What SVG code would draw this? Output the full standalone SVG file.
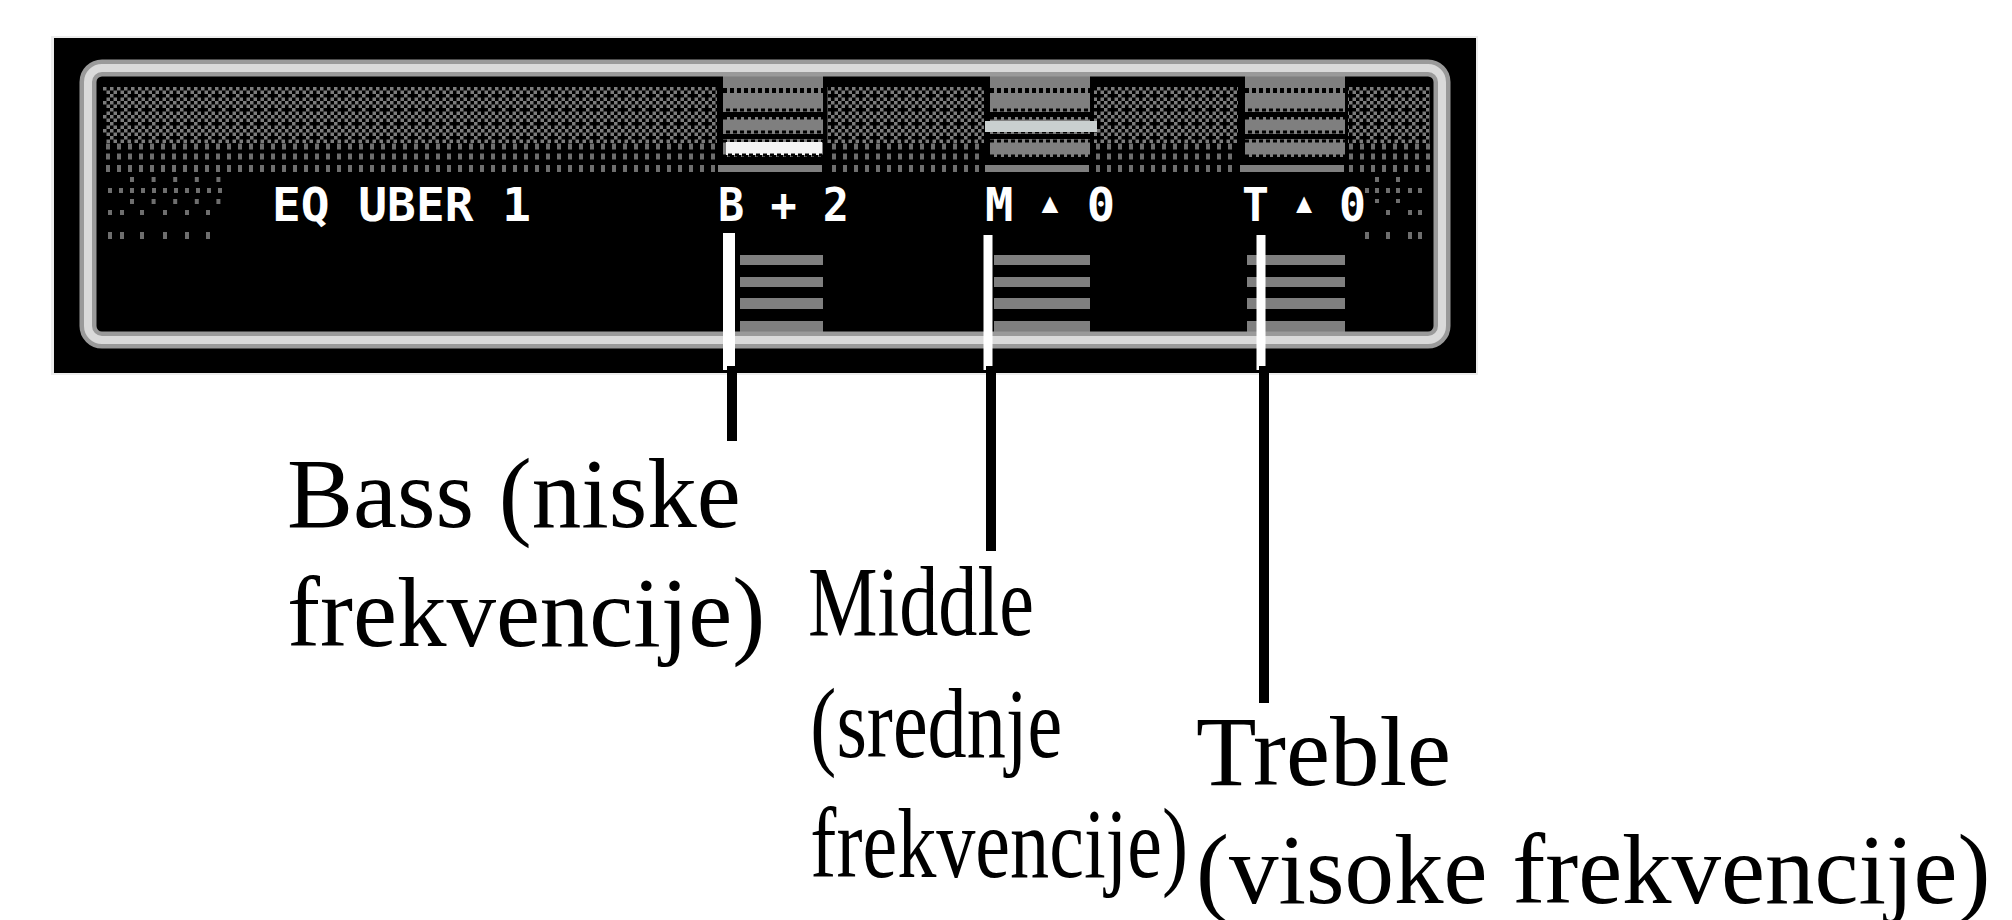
<svg xmlns="http://www.w3.org/2000/svg" xmlns:xlink="http://www.w3.org/1999/xlink" width="2012" height="920" viewBox="0 0 2012 920">
<style>
.lbl{font-family:"Liberation Serif","Times New Roman",serif;font-size:99px;fill:#000}
.lcd{font-family:"DejaVu Sans Mono","Liberation Mono",monospace;font-weight:bold;font-size:47px;fill:#fff}
.gbar{fill:#7f7f7f}
.dot{fill:#6e6e6e}
.wl{stroke:#fff;fill:none}
.bl{stroke:#000;stroke-width:10;fill:none}
</style>
<defs>
<pattern id="chk" patternUnits="userSpaceOnUse" x="103" y="87" width="14" height="14">
<g fill="#7c7c7c">
<rect x="0" y="0" width="3.5" height="3.5"/>
<rect x="3.5" y="3.5" width="3.5" height="3.5"/>
<rect x="7" y="7" width="3.5" height="3.5"/>
<rect x="10.5" y="10.5" width="3.5" height="3.5"/>
<rect x="10.5" y="3.5" width="3.5" height="3.5"/>
<rect x="3.5" y="10.5" width="3.5" height="3.5"/>
<rect x="7" y="0" width="3.5" height="3.5"/>
</g>
</pattern>
<g id="col">
<rect x="0" y="75" width="100" height="82" class="gbar"/>
<line x1="0" y1="90.5" x2="100" y2="90.5" stroke="#000" stroke-width="5" stroke-dasharray="4 3"/>
<rect x="0" y="112" width="100" height="5" fill="#000"/>
<line x1="3" y1="110" x2="100" y2="110" stroke="#000" stroke-width="3" stroke-dasharray="4 3"/>
<line x1="0" y1="118" x2="100" y2="118" stroke="#000" stroke-width="3" stroke-dasharray="4 3"/>
<rect x="0" y="134" width="100" height="5" fill="#000"/>
<line x1="3" y1="132" x2="100" y2="132" stroke="#000" stroke-width="3" stroke-dasharray="4 3"/>
<line x1="0" y1="141" x2="100" y2="141" stroke="#000" stroke-width="3" stroke-dasharray="4 3"/>
<line x1="0" y1="157" x2="100" y2="157" stroke="#000" stroke-width="5" stroke-dasharray="4 3"/>
<rect x="-5" y="165" width="104" height="7" class="gbar"/>
</g>
</defs>
<rect width="2012" height="920" fill="#fff"/>

<g id="display">
<rect x="51" y="36" width="1427" height="339" fill="#ececec"/>
<rect x="54" y="38" width="1422" height="335" fill="#000"/>
<!-- checker band -->
<rect x="103" y="87" width="1327" height="56" fill="url(#chk)"/>
<!-- dot rows -->
<line x1="106" y1="146.5" x2="1430" y2="146.5" stroke="#6e6e6e" stroke-width="6" stroke-dasharray="4 7"/>
<line x1="106" y1="156.5" x2="1430" y2="156.5" stroke="#6e6e6e" stroke-width="6" stroke-dasharray="4 7"/>
<line x1="106" y1="168.5" x2="1430" y2="168.5" stroke="#6e6e6e" stroke-width="7" stroke-dasharray="4 7"/>
<!-- left sparse dots -->
<line x1="130" y1="179.5" x2="222" y2="179.5" stroke="#6e6e6e" stroke-width="5" stroke-dasharray="4 17.6"/>
<line x1="108" y1="190.5" x2="222" y2="190.5" stroke="#6e6e6e" stroke-width="5" stroke-dasharray="4 7"/>
<line x1="130" y1="201.5" x2="222" y2="201.5" stroke="#6e6e6e" stroke-width="5" stroke-dasharray="4 17.6"/>
<g class="dot">
<rect x="108" y="210" width="4" height="5"/><rect x="120" y="210" width="4" height="5"/><rect x="140" y="210" width="4" height="5"/><rect x="163" y="210" width="4" height="5"/><rect x="185" y="210" width="4" height="5"/><rect x="206" y="210" width="4" height="5"/>
<rect x="108" y="232" width="4" height="7"/><rect x="120" y="232" width="4" height="7"/><rect x="140" y="232" width="4" height="7"/><rect x="163" y="232" width="4" height="7"/><rect x="185" y="232" width="4" height="7"/><rect x="206" y="232" width="4" height="7"/>
<!-- right sparse dots -->
<rect x="1375" y="177" width="4" height="5"/><rect x="1396" y="177" width="4" height="5"/>
<rect x="1365" y="188" width="4" height="5"/><rect x="1375" y="188" width="4" height="5"/><rect x="1386" y="188" width="4" height="5"/><rect x="1396" y="188" width="4" height="5"/><rect x="1408" y="188" width="4" height="5"/><rect x="1418" y="188" width="4" height="5"/>
<rect x="1375" y="199" width="4" height="4"/><rect x="1396" y="199" width="4" height="4"/>
<rect x="1386" y="210" width="4" height="5"/><rect x="1408" y="210" width="4" height="5"/><rect x="1418" y="210" width="4" height="5"/>
<rect x="1365" y="232" width="4" height="7"/><rect x="1386" y="232" width="4" height="7"/><rect x="1408" y="232" width="4" height="7"/><rect x="1418" y="232" width="4" height="7"/>
</g>
<!-- column clearings -->
<rect x="717" y="72" width="110" height="104" fill="#000"/>
<rect x="984" y="72" width="110" height="104" fill="#000"/>
<rect x="1238" y="72" width="110" height="104" fill="#000"/>
<use xlink:href="#col" x="723"/>
<use xlink:href="#col" x="990"/>
<use xlink:href="#col" x="1245"/>
<!-- highlighted levels -->
<rect x="726" y="142" width="96" height="13" fill="#f4f4f4"/>
<line x1="728" y1="155" x2="822" y2="155" stroke="#000" stroke-width="3" stroke-dasharray="4 3"/>
<rect x="985" y="121" width="112" height="11" fill="#c9cfcf"/>
<!-- lower bars -->
<g class="gbar">
<rect x="740" y="255" width="83" height="10"/><rect x="740" y="277" width="83" height="10"/><rect x="740" y="298" width="83" height="11"/><rect x="740" y="321" width="83" height="12"/>
<rect x="994" y="255" width="96" height="10"/><rect x="994" y="277" width="96" height="10"/><rect x="994" y="298" width="96" height="11"/><rect x="994" y="321" width="96" height="12"/>
<rect x="1247" y="255" width="98" height="10"/><rect x="1247" y="277" width="98" height="10"/><rect x="1247" y="298" width="98" height="11"/><rect x="1247" y="321" width="98" height="12"/>
</g>
<!-- frame -->
<rect x="88" y="68" width="1354" height="272" rx="14" fill="none" stroke="#9a9a9a" stroke-width="17"/>
<rect x="88" y="68" width="1354" height="272" rx="14" fill="none" stroke="#dadada" stroke-width="8"/>
<!-- texts -->
<text class="lcd" x="272" y="221" textLength="259" lengthAdjust="spacingAndGlyphs">EQ UBER 1</text>
<text class="lcd" x="718" y="221" textLength="131" lengthAdjust="spacingAndGlyphs">B + 2</text>
<text class="lcd" x="985" y="221" textLength="130" lengthAdjust="spacingAndGlyphs">M <tspan font-size="28" dy="-9">▲</tspan><tspan dy="9"> 0</tspan></text>
<text class="lcd" x="1242" y="221" textLength="124" lengthAdjust="spacingAndGlyphs">T <tspan font-size="28" dy="-9">▲</tspan><tspan dy="9"> 0</tspan></text>
</g>

<g id="connectors">
<line class="wl" x1="729" y1="233" x2="729" y2="370" stroke-width="12"/>
<line class="wl" x1="988" y1="235" x2="988" y2="370" stroke-width="9"/>
<line class="wl" x1="1261" y1="235" x2="1261" y2="370" stroke-width="9"/>
<line class="bl" x1="732" y1="366" x2="732" y2="441"/>
<line class="bl" x1="991" y1="366" x2="991" y2="551"/>
<line class="bl" x1="1264" y1="366" x2="1264" y2="703"/>
</g>

<g id="bass">
<text class="lbl" x="287" y="527">Bass (niske</text>
<text class="lbl" x="287" y="646">frekvencije)</text>
</g>
<g id="middle" transform="translate(808,0) scale(0.79,1)">
<text class="lbl" x="0" y="635">Middle</text>
<text class="lbl" x="3" y="757">(srednje</text>
<text class="lbl" x="3" y="877">frekvencije)</text>
</g>
<g id="treble">
<text class="lbl" x="1196" y="785">Treble</text>
<text class="lbl" x="1196" y="903">(visoke frekvencije)</text>
</g>
</svg>
